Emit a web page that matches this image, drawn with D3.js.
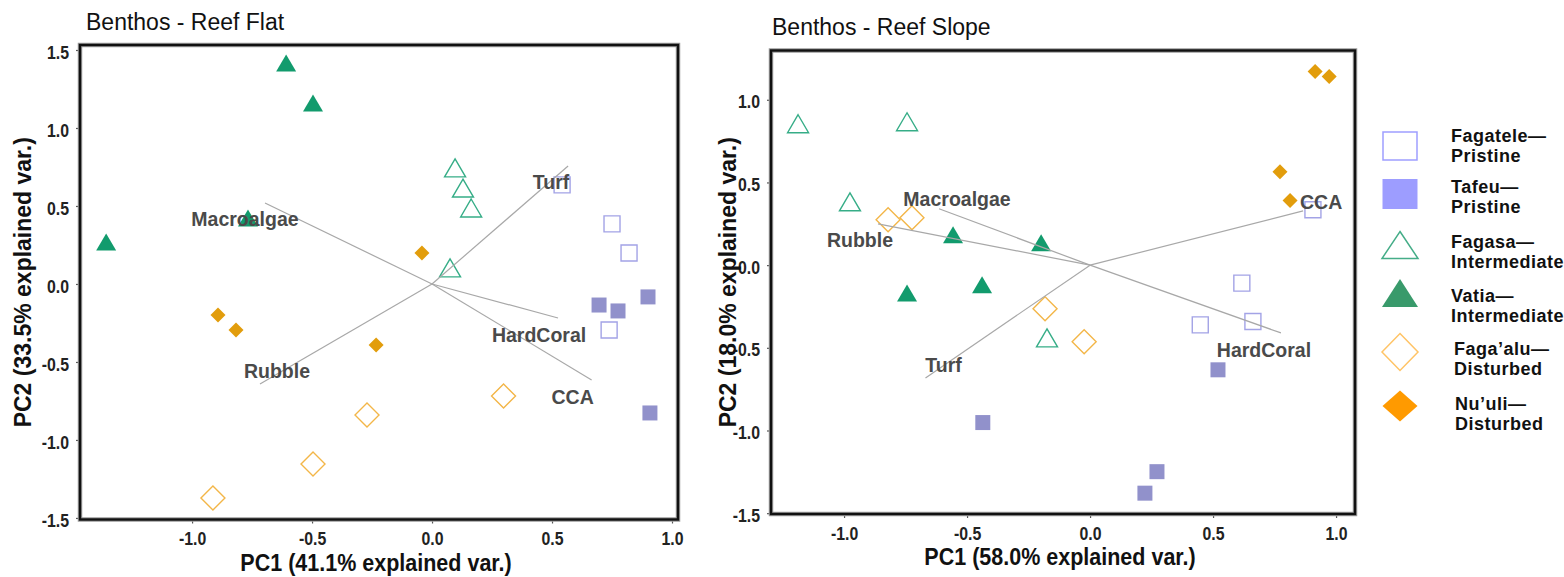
<!DOCTYPE html>
<html>
<head>
<meta charset="utf-8">
<script src="https://cdn.jsdelivr.net/npm/d3@7"></script>
<style>
  body { margin: 0; background: #fff; }
  svg { display: block; }
</style>
</head>
<body>
<svg id="fig" width="1564" height="577"></svg>
<script>
// ---------------- data ----------------
const sites  = ["Fagatele", "Tafeu", "Fagasa", "Vatia", "Faga\u2019alu", "Nu\u2019uli"];
const status = ["Pristine", "Pristine", "Intermediate", "Intermediate", "Disturbed", "Disturbed"];

// Reef flat PCA scores (one row per site, four transects each)
const flatPC1 = [
  [0.542, 0.750, 0.821, 0.738],
  [0.696, 0.775, 0.900, 0.908],
  [0.096, 0.129, 0.163, 0.075],
  [-0.608, -0.496, -0.767, -1.358],
  [0.298, -0.271, -0.496, -0.913],
  [-0.042, -0.892, -0.817, -0.233]
];
const flatPC2 = [
  [0.635, 0.385, 0.199, -0.295],
  [-0.135, -0.173, -0.083, -0.827],
  [0.744, 0.615, 0.487, 0.103],
  [1.417, 1.160, 0.423, 0.269],
  [-0.718, -0.840, -1.154, -1.372],
  [0.199, -0.199, -0.295, -0.391]
];

// Reef slope PCA scores
const slopePC1 = [
  [0.906, 0.617, 0.448, 0.662],
  [0.520, -0.436, 0.272, 0.223],
  [-1.187, -0.744, -0.976, -0.175],
  [-0.557, -0.199, -0.744, -0.439],
  [-0.821, -0.724, -0.183, -0.024],
  [0.915, 0.972, 0.772, 0.813]
];
const slopePC2 = [
  [0.335, -0.109, -0.361, -0.341],
  [-0.633, -0.952, -1.249, -1.379],
  [0.855, 0.867, 0.383, -0.440],
  [0.183, 0.135, -0.168, -0.119],
  [0.274, 0.286, -0.264, -0.464],
  [1.171, 1.141, 0.564, 0.391]
];

// Variable loadings
const variables    = ["HardCoral", "CCA", "Turf", "Macroalgae", "Rubble"];
const flatLoadPC1  = [0.525, 0.665, 0.567, -0.696, -0.717];
const flatLoadPC2  = [-0.218, -0.615, 0.756, 0.519, -0.641];
const slopeLoadPC1 = [0.776, 0.866, -0.669, -0.614, -0.862];
const slopeLoadPC2 = [-0.410, 0.328, -0.682, 0.341, 0.250];

// Axis ticks
const flatXTicks = [-1, -0.5, 0, 0.5, 1];
const flatYTicks = [-1.5, -1, -0.5, 0, 0.5, 1, 1.5];
const slopeXTicks = [-1, -0.5, 0, 0.5, 1];
const slopeYTicks = [-1.5, -1, -0.5, 0, 0.5, 1];
const tickText = v => (v < 0 ? "-" : "") + Math.abs(v).toFixed(1);

// ---------------- styling ----------------
const siteStyle = [
  { shape: "square",   fill: false, color: "#a3a3e6", w: 16, h: 16, legendColor: "#9e9eff" },
  { shape: "square",   fill: true,  color: "#9191cb", w: 15, h: 15, legendColor: "#9d9dff" },
  { shape: "triangle", fill: false, color: "#36ad87", w: 21, h: 18, legendColor: "#45ad88" },
  { shape: "triangle", fill: true,  color: "#129b6d", w: 20, h: 17, legendColor: "#399a6b" },
  { shape: "diamond",  fill: false, color: "#f3b648", w: 24, h: 24, legendColor: "#ffc466" },
  { shape: "diamond",  fill: true,  color: "#e29d0c", w: 15, h: 15, legendColor: "#ff9a00" }
];

function shapePath(shape, w, h) {
  if (shape === "square")   return `M${-w/2},${-h/2}h${w}v${h}h${-w}Z`;
  if (shape === "triangle") return `M0,${-h/2}L${w/2},${h/2}L${-w/2},${h/2}Z`;
  return `M0,${-h/2}L${w/2},0L0,${h/2}L${-w/2},0Z`;
}

function squeeze(sel, k) {
  sel.each(function () {
    const len = this.getComputedTextLength();
    this.setAttribute("textLength", len * k);
    this.setAttribute("lengthAdjust", "spacingAndGlyphs");
  });
}

const svg = d3.select("#fig");
const SANS = "'Liberation Sans', Arial, Helvetica, sans-serif";

function drawPanel(p) {
  const x = d3.scaleLinear().domain(p.xDomain).range([p.box.left, p.box.right]);
  const y = d3.scaleLinear().domain(p.yDomain).range([p.box.bottom, p.box.top]);
  const g = svg.append("g");

  // title
  g.append("text")
    .attr("x", p.titleX).attr("y", p.titleY)
    .attr("font-family", SANS).attr("font-size", 23).attr("fill", "#111")
    .text(p.title);

  // axes
  const yAxis = d3.axisLeft(y).tickValues(p.yTicks).tickFormat(tickText)
    .tickSizeInner(4).tickSizeOuter(0).tickPadding(7);
  const xAxis = d3.axisBottom(x).tickValues(p.xTicks).tickFormat(tickText)
    .tickSizeInner(4).tickSizeOuter(0).tickPadding(9);

  const ya = g.append("g").attr("transform", `translate(${p.box.left},0)`).call(yAxis);
  const xa = g.append("g").attr("transform", `translate(0,${p.box.bottom})`).call(xAxis);
  [ya, xa].forEach(a => {
    a.select(".domain").remove();
    a.selectAll(".tick line").attr("stroke", "#555").attr("stroke-width", 1.2);
    a.selectAll(".tick text")
      .attr("font-family", SANS).attr("font-weight", "bold")
      .attr("font-size", 18).attr("fill", "#222");
    squeeze(a.selectAll(".tick text"), 0.88);
  });
  ya.selectAll(".tick text").attr("dy", "0.45em");

  // panel frame
  const bw = p.box.right - p.box.left, bh = p.box.bottom - p.box.top;
  g.append("rect").attr("x", p.box.left).attr("y", p.box.top)
    .attr("width", bw).attr("height", bh)
    .attr("fill", "none").attr("stroke", "#9a9a9a").attr("stroke-width", 4.5);
  g.append("rect").attr("x", p.box.left).attr("y", p.box.top)
    .attr("width", bw).attr("height", bh)
    .attr("fill", "none").attr("stroke", "#111").attr("stroke-width", 2.4);

  // points
  const pts = [];
  p.pc1.forEach((row, s) => row.forEach((v, i) => pts.push({ s, a: v, b: p.pc2[s][i] })));
  g.append("g").selectAll("path").data(pts).join("path")
    .attr("transform", d => `translate(${x(d.a)},${y(d.b)})`)
    .attr("d", d => shapePath(siteStyle[d.s].shape, siteStyle[d.s].w, siteStyle[d.s].h))
    .attr("fill", d => siteStyle[d.s].fill ? siteStyle[d.s].color : "none")
    .attr("stroke", d => siteStyle[d.s].fill ? "none" : siteStyle[d.s].color)
    .attr("stroke-width", 1.4);

  // loadings
  const loads = variables.map((name, i) => ({ name, a: p.loadX[i], b: p.loadY[i] }));
  g.append("g").selectAll("line").data(loads).join("line")
    .attr("x1", x(0)).attr("y1", y(0))
    .attr("x2", d => x(d.a)).attr("y2", d => y(d.b))
    .attr("stroke", "#a8a8a8").attr("stroke-width", 1.2);
  g.append("g").selectAll("text").data(loads).join("text")
    .attr("x", d => x(d.a) + p.labelOffset[d.name][0])
    .attr("y", d => y(d.b) + p.labelOffset[d.name][1])
    .attr("text-anchor", "middle").attr("dominant-baseline", "central")
    .attr("font-family", SANS).attr("font-weight", "bold")
    .attr("font-size", 19.5).attr("fill", "#4a4a4a")
    .text(d => d.name);

  // axis titles
  const xt = g.append("text")
    .attr("x", (p.box.left + p.box.right) / 2 - 3).attr("y", p.xTitleY)
    .attr("text-anchor", "middle")
    .attr("font-family", SANS).attr("font-weight", "bold").attr("font-size", 23).attr("fill", "#111")
    .text(p.xTitle);
  squeeze(xt, 0.935);
  g.append("text")
    .attr("transform", `translate(${p.yTitleX},${(p.box.top + p.box.bottom) / 2}) rotate(-90)`)
    .attr("text-anchor", "middle")
    .attr("font-family", SANS).attr("font-weight", "bold").attr("font-size", 23).attr("fill", "#111")
    .text(p.yTitle);
}

drawPanel({
  title: "Benthos - Reef Flat", titleX: 86, titleY: 30,
  box: { left: 80, right: 678, top: 45, bottom: 519.5 },
  xDomain: [-1.467, 1.025], yDomain: [-1.51, 1.532],
  xTicks: flatXTicks, yTicks: flatYTicks,
  pc1: flatPC1, pc2: flatPC2, loadX: flatLoadPC1, loadY: flatLoadPC2,
  labelOffset: { HardCoral: [-19, 17], CCA: [-19, 17], Turf: [-17, 16], Macroalgae: [-20, 16], Rubble: [17, -13] },
  xTitle: "PC1 (41.1% explained var.)", xTitleY: 571,
  yTitle: "PC2 (33.5% explained var.)", yTitleX: 31
});

drawPanel({
  title: "Benthos - Reef Slope", titleX: 772, titleY: 35,
  box: { left: 771, right: 1355, top: 50.5, bottom: 514 },
  xDomain: [-1.297, 1.077], yDomain: [-1.505, 1.298],
  xTicks: slopeXTicks, yTicks: slopeYTicks,
  pc1: slopePC1, pc2: slopePC2, loadX: slopeLoadPC1, loadY: slopeLoadPC2,
  labelOffset: { HardCoral: [-17, 17], CCA: [18, -9], Turf: [18, -13], Macroalgae: [18, -10], Rubble: [-18, 16] },
  xTitle: "PC1 (58.0% explained var.)", xTitleY: 565,
  yTitle: "PC2 (18.0% explained var.)", yTitleX: 736
});

// ---------------- legend ----------------
const legendSym = [
  { w: 34, h: 28 }, { w: 35, h: 30 }, { w: 36, h: 27 },
  { w: 36, h: 28 }, { w: 36, h: 37 }, { w: 35, h: 31 }
];
const legendRowY  = [146, 194, 245, 293, 352, 406];
const legendTextX = [1451, 1451, 1451, 1451, 1454, 1455];
const legendTextY = [142, 193, 248, 302, 355, 410];

const lg = svg.append("g");
sites.forEach((name, i) => {
  const st = siteStyle[i];
  lg.append("path")
    .attr("transform", `translate(1400,${legendRowY[i]})`)
    .attr("d", shapePath(st.shape, legendSym[i].w, legendSym[i].h))
    .attr("fill", st.fill ? st.legendColor : "none")
    .attr("stroke", st.fill ? "none" : st.legendColor)
    .attr("stroke-width", 1.5);
  const t = lg.append("text")
    .attr("x", legendTextX[i]).attr("y", legendTextY[i])
    .attr("font-family", SANS).attr("font-weight", "bold").attr("font-size", 18)
    .attr("letter-spacing", 0.5).attr("fill", "#111");
  t.append("tspan").attr("x", legendTextX[i]).text(name + "\u2014");
  t.append("tspan").attr("x", legendTextX[i]).attr("dy", 19.5).text(status[i]);
});
</script>
</body>
</html>
